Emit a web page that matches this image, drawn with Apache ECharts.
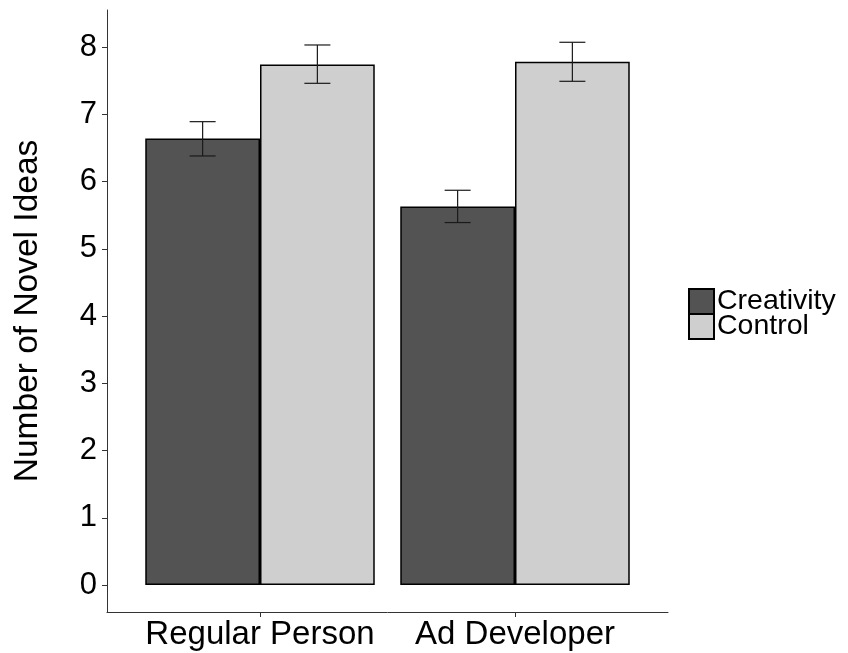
<!DOCTYPE html>
<html>
<head>
<meta charset="utf-8">
<script src="https://cdn.jsdelivr.net/npm/echarts@6/dist/echarts.min.js"></script>
<style>
  html, body { margin: 0; padding: 0; background: #ffffff; }
  #chart { width: 848px; height: 653px; }
</style>
</head>
<body>
<div id="chart"></div>
<script>
// Groups along the x axis and the two conditions within each group
const categories = ['Regular Person', 'Ad Developer'];
const seriesNames = ['Creativity', 'Control'];

// Mean number of novel ideas per group
const creativityMeans = [6.64, 5.63];
const controlMeans = [7.74, 7.78];

// Error bar limits (lower, upper)
const creativityLower = [6.38, 5.39];
const creativityUpper = [6.89, 5.87];
const controlLower = [7.46, 7.49];
const controlUpper = [8.03, 8.07];

// Y axis tick values
const yTicks = [0, 1, 2, 3, 4, 5, 6, 7, 8];

const FONT = '"Liberation Sans", Arial, Helvetica, sans-serif';
const colors = ['#535353', '#cfcfcf'];

// Plot area and dodge geometry (in x-axis units: groups sit at 1 and 2)
const grid = { left: 107, right: 180, top: 10, bottom: 41 };
const xMin = 0.4, xMax = 2.6;
const dodgeWidth = 0.9;                        // total width of a group
const plotWidth = 848 - grid.left - grid.right;
const barPx = plotWidth / (xMax - xMin) * dodgeWidth / 2;

const xPos = categories.map((_, i) => i + 1);

function barData(values) {
  return values.map((v, i) => [xPos[i], v]);
}
function errData(lower, upper) {
  return lower.map((lo, i) => [xPos[i], lo, upper[i]]);
}

// Draws an error bar with caps; side = -1 (left bar) or +1 (right bar)
function errorBarRenderer(side) {
  return function (params, api) {
    const x = api.value(0);
    const lo = api.coord([x, api.value(1)]);
    const hi = api.coord([x, api.value(2)]);
    const cx = lo[0] + side * barPx / 2;
    const cap = 13;
    const style = { stroke: '#1a1a1a', lineWidth: 1.2 };
    return {
      type: 'group',
      children: [
        { type: 'line', shape: { x1: cx, y1: hi[1], x2: cx, y2: lo[1] }, style },
        { type: 'line', shape: { x1: cx - cap, y1: hi[1], x2: cx + cap, y2: hi[1] }, style },
        { type: 'line', shape: { x1: cx - cap, y1: lo[1], x2: cx + cap, y2: lo[1] }, style }
      ]
    };
  };
}

const chart = echarts.init(document.getElementById('chart'), null, { renderer: 'canvas' });

chart.setOption({
  backgroundColor: '#ffffff',
  animation: false,
  grid: grid,
  legend: {
    data: seriesNames,
    orient: 'vertical',
    left: 688,
    top: 287,
    padding: 0,
    itemWidth: 25,
    itemHeight: 25,
    itemGap: -4,
    icon: 'rect',
    textStyle: { fontFamily: FONT, fontSize: 28.5, color: '#000000', padding: [4, 0, 0, -2], lineHeight: 25 }
  },
  xAxis: {
    type: 'value',
    min: xMin,
    max: xMax,
    splitLine: { show: false },
    axisLine: { show: true, onZero: false, lineStyle: { color: '#333333', width: 1 } },
    axisTick: { show: true, customValues: xPos, length: 5, lineStyle: { color: '#333333' } },
    axisLabel: {
      customValues: xPos,
      margin: 6,
      fontFamily: FONT,
      fontSize: 33,
      color: '#000000',
      formatter: (v) => categories[Math.round(v) - 1] || ''
    }
  },
  yAxis: {
    type: 'value',
    min: -0.4,
    max: 8.55,
    name: 'Number of Novel Ideas',
    nameLocation: 'middle',
    nameGap: 62,
    nameTextStyle: { fontFamily: FONT, fontSize: 33.5, color: '#000000' },
    splitLine: { show: false },
    axisLine: { show: true, onZero: false, lineStyle: { color: '#333333', width: 1 } },
    axisTick: { show: true, customValues: yTicks, length: 5, lineStyle: { color: '#333333' } },
    axisLabel: {
      customValues: yTicks,
      margin: 10,
      fontFamily: FONT,
      fontSize: 31,
      color: '#000000'
    }
  },
  series: [
    {
      name: seriesNames[0],
      type: 'bar',
      data: barData(creativityMeans),
      barWidth: barPx,
      barGap: '0%',
      itemStyle: { color: colors[0], borderColor: '#000000', borderWidth: 1.5 }
    },
    {
      name: seriesNames[1],
      type: 'bar',
      data: barData(controlMeans),
      barWidth: barPx,
      barGap: '0%',
      itemStyle: { color: colors[1], borderColor: '#000000', borderWidth: 1.5 }
    },
    {
      type: 'custom',
      renderItem: errorBarRenderer(-1),
      data: errData(creativityLower, creativityUpper),
      z: 10
    },
    {
      type: 'custom',
      renderItem: errorBarRenderer(1),
      data: errData(controlLower, controlUpper),
      z: 10
    }
  ]
});
</script>
</body>
</html>
